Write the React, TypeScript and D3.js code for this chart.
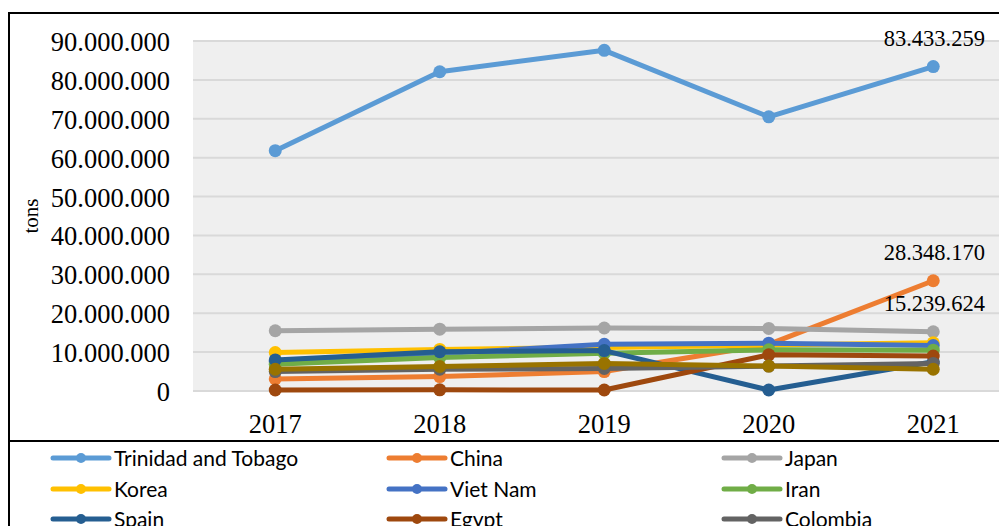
import React from "react";
import * as d3 from "d3";

const years = ["2017", "2018", "2019", "2020", "2021"];
const yTicks = [0, 10e6, 20e6, 30e6, 40e6, 50e6, 60e6, 70e6, 80e6, 90e6];

const seriesNames = ["Trinidad and Tobago", "China", "Japan", "Korea", "Viet Nam", "Iran", "Spain", "Egypt", "Colombia", "Other"];
const seriesColors = ["#5B9BD5", "#ED7D31", "#A5A5A5", "#FFC000", "#4472C4", "#70AD47", "#255E91", "#9E480E", "#636363", "#997300"];

const trinidad = [61.8e6, 82.1e6, 87.6e6, 70.5e6, 83433259];
const china = [3.1e6, 3.7e6, 5.0e6, 12.0e6, 28348170];
const japan = [15.5e6, 15.9e6, 16.2e6, 16.1e6, 15239624];
const korea = [9.9e6, 10.7e6, 11.2e6, 11.8e6, 12.4e6];
const vietnam = [7.6e6, 9.6e6, 12.0e6, 12.3e6, 11.7e6];
const iran = [6.9e6, 8.6e6, 9.7e6, 10.6e6, 10.5e6];
const spain = [8.0e6, 10.1e6, 10.4e6, 0.25e6, 7.5e6];
const egypt = [0.26e6, 0.3e6, 0.25e6, 9.3e6, 9.0e6];
const colombia = [5.0e6, 5.6e6, 5.8e6, 6.4e6, 7.1e6];
const other = [5.6e6, 6.3e6, 7.1e6, 6.4e6, 5.6e6];

const seriesValues = [trinidad, china, japan, korea, vietnam, iran, spain, egypt, colombia, other];
const labelled = [
  { s: 0, i: 4 },
  { s: 1, i: 4 },
  { s: 2, i: 4 },
];

const fmt = (v: number) => d3.format(",")(Math.round(v)).replace(/,/g, ".");

export default function App() {
  const W = 999, H = 526;
  const plotL = 193, plotR = 1015.5, plotT = 41, plotB = 391;
  const x = d3.scalePoint<string>().domain(years).range([plotL, plotR]).padding(0.5);
  const y = d3.scaleLinear().domain([0, 90e6]).range([plotB, plotT]);
  const line = d3
    .line<number>()
    .x((_, i) => x(years[i]) as number)
    .y((d) => y(d));

  const legendCols = [53, 389, 724];
  const legendRows = [458, 489, 519, 549];
  const serif = "'Liberation Serif', 'Times New Roman', Times, serif";

  return (
    <svg width={W} height={H} style={{ position: "absolute", left: 0, top: 0, background: "#fff" }}>
      <rect x={plotL} y={plotT} width={plotR - plotL} height={plotB - plotT} fill="#EFEFEF" />
      {yTicks.map((t) => (
        <line key={t} x1={plotL} x2={plotR} y1={y(t)} y2={y(t)} stroke="#D9D9D9" strokeWidth={2} />
      ))}
      {yTicks.map((t) => (
        <text key={"l" + t} x={170} y={y(t) + 10} textAnchor="end" fontFamily={serif} fontSize={26.5} fill="#000">
          {fmt(t)}
        </text>
      ))}
      {years.map((yr) => (
        <text key={yr} x={x(yr)} y={433} textAnchor="middle" fontFamily={serif} fontSize={26.5} fill="#000">
          {yr}
        </text>
      ))}
      <text transform={`translate(38,216) rotate(-90)`} textAnchor="middle" fontFamily={serif} fontSize={21} fill="#000">
        tons
      </text>
      {seriesValues.map((vals, s) => (
        <g key={seriesNames[s]}>
          <path d={line(vals) || ""} fill="none" stroke={seriesColors[s]} strokeWidth={5} strokeLinejoin="round" />
          {vals.map((v, i) => (
            <circle key={i} cx={x(years[i])} cy={y(v)} r={6.5} fill={seriesColors[s]} />
          ))}
        </g>
      ))}
      {labelled.map(({ s, i }) => (
        <text
          key={"d" + s}
          x={(x(years[i]) as number) + 1}
          y={y(seriesValues[s][i]) - 21}
          textAnchor="middle"
          fontFamily={serif}
          fontSize={22.5}
          fill="#000"
        >
          {fmt(seriesValues[s][i])}
        </text>
      ))}
      <line x1={9} x2={W} y1={13} y2={13} stroke="#000" strokeWidth={2} />
      <line x1={9} x2={9} y1={12} y2={H} stroke="#000" strokeWidth={2} />
      <line x1={9} x2={W} y1={441} y2={441} stroke="#000" strokeWidth={2} />
      {seriesNames.map((name, k) => {
        const cx = legendCols[k % 3];
        const cy = legendRows[Math.floor(k / 3)];
        return (
          <g key={"lg" + name}>
            <line x1={cx} x2={cx + 56} y1={cy} y2={cy} stroke={seriesColors[k]} strokeWidth={5} strokeLinecap="round" />
            <circle cx={cx + 28} cy={cy} r={5} fill={seriesColors[k]} />
            <text x={cx + 61} y={cy + 7.5} fontFamily="Lato, 'Noto Sans', sans-serif" fontSize={21} fill="#000">
              {name}
            </text>
          </g>
        );
      })}
    </svg>
  );
}
